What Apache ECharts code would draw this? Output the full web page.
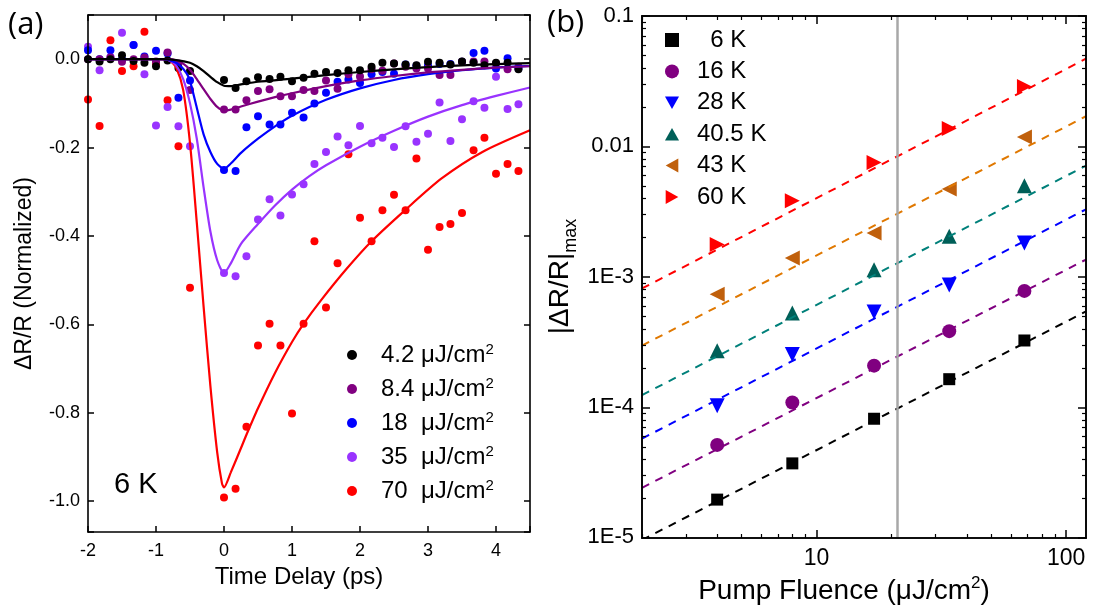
<!DOCTYPE html>
<html>
<head>
<meta charset="utf-8">
<script src="https://cdn.jsdelivr.net/npm/echarts@6/dist/echarts.min.js"></script>
<style>
html, body { margin: 0; padding: 0; background: #fff; }
#wrap { position: relative; width: 1095px; height: 610px; }
#main, #frame { position: absolute; left: 0; top: 0; width: 1095px; height: 610px; }
#main { z-index: 1; }
#frame { z-index: 2; pointer-events: none; }
</style>
</head>
<body>
<div id="wrap"><div id="main"></div><div id="frame"></div></div>
<script>
// ---- (a) 6 K traces ----
const delay = [-2.00,-1.83,-1.67,-1.50,-1.33,-1.17,-1.00,-0.83,-0.67,-0.50,-0.33,-0.17,0.00,0.17,0.33,0.50,0.67,0.83,1.00,1.17,1.33,1.50,1.67,1.83,2.00,2.17,2.33,2.50,2.67,2.83,3.00,3.17,3.33,3.50,3.67,3.83,4.00,4.17,4.33];
const trace4_2 = [0.0,-0.005,0.0,0.009,-0.004,-0.008,-0.016,-0.003,-0.02,-0.027,null,null,-0.047,-0.065,-0.05,-0.041,-0.045,-0.04,-0.05,-0.042,-0.033,-0.029,-0.031,-0.025,-0.025,-0.017,-0.008,-0.01,-0.012,-0.014,-0.006,-0.008,-0.012,-0.005,-0.008,-0.014,-0.008,-0.008,-0.023];
const trace8_4 = [0.0,0.0,0.004,-0.006,0.0,0.004,-0.005,0.015,-0.01,-0.07,null,null,-0.114,-0.114,-0.093,-0.072,-0.068,-0.084,-0.084,-0.07,-0.072,-0.048,-0.067,-0.034,-0.039,-0.023,-0.026,-0.01,-0.017,-0.021,-0.021,-0.036,-0.036,-0.006,-0.005,-0.005,-0.01,-0.023,-0.017];
const trace18 = [0.02,0.0,0.02,0.0,0.032,0.006,0.019,0.013,-0.087,-0.048,null,null,-0.251,-0.253,-0.154,-0.129,-0.148,-0.148,-0.121,-0.132,-0.1,-0.076,-0.051,-0.046,-0.054,-0.034,-0.029,-0.033,-0.012,-0.015,-0.014,-0.011,-0.011,-0.006,0.014,0.019,-0.021,0.002,-0.021];
const trace35 = [0.028,-0.025,0.005,0.06,0.032,-0.034,-0.15,-0.108,-0.152,-0.197,null,null,-0.484,-0.491,-0.446,-0.363,-0.317,-0.354,-0.306,-0.283,-0.237,-0.21,-0.175,-0.195,-0.151,-0.19,-0.178,-0.199,-0.152,-0.187,-0.169,-0.098,-0.185,-0.136,-0.095,-0.11,-0.04,-0.113,-0.102];
const trace70 = [-0.091,-0.151,0.043,-0.027,-0.016,0.062,-0.01,-0.093,-0.197,-0.517,null,null,-0.992,-0.972,-0.832,-0.648,-0.599,-0.648,-0.802,-0.599,-0.412,-0.562,-0.462,-0.215,-0.359,-0.412,-0.342,-0.307,-0.342,-0.225,-0.431,-0.38,-0.373,-0.348,-0.206,-0.178,-0.259,-0.237,-0.253];

// fit curves, [delay, value]
const fit4_2 = [[-2,0],[-0.9,0],[-0.7,-0.002],[-0.5,-0.008],[-0.4,-0.016],[-0.3,-0.027],[-0.2,-0.04],[-0.1,-0.052],[0,-0.06],[0.1,-0.061],[0.25,-0.057],[0.5,-0.051],[1,-0.044],[1.5,-0.036],[2,-0.029],[2.5,-0.023],[3,-0.018],[3.5,-0.014],[4,-0.011],[4.5,-0.009]];
const fit8_4 = [[-2,0],[-0.8,0],[-0.7,-0.003],[-0.6,-0.01],[-0.5,-0.024],[-0.4,-0.045],[-0.3,-0.068],[-0.2,-0.09],[-0.1,-0.108],[0,-0.116],[0.1,-0.114],[0.25,-0.107],[0.5,-0.096],[0.75,-0.086],[1,-0.077],[1.5,-0.061],[2,-0.048],[2.5,-0.038],[3,-0.03],[3.5,-0.024],[4,-0.019],[4.5,-0.016]];
const fit18 = [[-2,0],[-0.9,0],[-0.75,-0.005],[-0.65,-0.014],[-0.55,-0.032],[-0.5,-0.049],[-0.4,-0.11],[-0.3,-0.17],[-0.2,-0.21],[-0.1,-0.237],[0,-0.248],[0.1,-0.236],[0.25,-0.212],[0.5,-0.18],[0.75,-0.152],[1,-0.128],[1.5,-0.092],[2,-0.066],[2.5,-0.047],[3,-0.034],[3.5,-0.025],[4,-0.019],[4.5,-0.015]];
const fit35 = [[-2,0],[-0.9,0],[-0.8,-0.003],[-0.7,-0.015],[-0.6,-0.045],[-0.5,-0.1],[-0.4,-0.18],[-0.3,-0.29],[-0.2,-0.39],[-0.1,-0.455],[0,-0.484],[0.1,-0.462],[0.25,-0.418],[0.5,-0.373],[0.75,-0.331],[1,-0.295],[1.25,-0.265],[1.5,-0.24],[2,-0.198],[2.5,-0.162],[3,-0.13],[3.5,-0.104],[4,-0.083],[4.5,-0.064]];
const fit70 = [[-2,0],[-0.95,0],[-0.8,-0.003],[-0.7,-0.02],[-0.6,-0.07],[-0.5,-0.19],[-0.4,-0.37],[-0.3,-0.56],[-0.2,-0.74],[-0.1,-0.89],[-0.03,-0.96],[0,-0.969],[0.1,-0.935],[0.25,-0.88],[0.33,-0.85],[0.5,-0.79],[0.75,-0.71],[1,-0.64],[1.165,-0.6],[1.42,-0.547],[1.8,-0.475],[2.17,-0.412],[2.66,-0.342],[3.2,-0.27],[3.8,-0.21],[4.5,-0.161]];

// ---- (b) |dR/R|max vs fluence ----
const fluence = [4, 8, 17, 34, 68];
const amp6K = [1.94e-5, 3.68e-5, 8.1e-5, 1.63e-4, 3.23e-4];
const amp16K = [5.1e-5, 1.08e-4, 2.07e-4, 3.81e-4, 7.76e-4];
const amp28K = [1.02e-4, 2.52e-4, 5.35e-4, 8.6e-4, 1.81e-3];
const amp40K = [2.7e-4, 5.25e-4, 1.13e-3, 2.04e-3, 4.98e-3];
const amp43K = [7.3e-4, 1.39e-3, 2.16e-3, 4.69e-3, 1.18e-2];
const amp60K = [1.76e-3, 3.81e-3, 7.5e-3, 1.37e-2, 2.87e-2];
// dashed fits, value at left / right edge of the axis
const fitEnds = [2, 120];
const line6K = [9.5e-6, 5.4e-4];
const line16K = [2.39e-5, 1.35e-3];
const line28K = [5.7e-5, 3.28e-3];
const line40K = [1.23e-4, 7.1e-3];
const line43K = [2.95e-4, 1.7e-2];
const line60K = [8.1e-4, 4.7e-2];
const markerFluence = 21;

// ticks
const xMajor = [10, 100];
const xMinor = [2,3,4,5,6,7,8,9,20,30,40,50,60,70,80,90];
const yMajor = [1e-5, 1e-4, 1e-3, 1e-2, 1e-1];
const yMajorText = ['1E-5', '1E-4', '1E-3', '0.01', '0.1'];
const yMinor = [];
[1e-5, 1e-4, 1e-3, 1e-2].forEach(function (d) {
    for (let m = 2; m <= 9; m++) yMinor.push(m * d);
});

const FONT = 'Liberation Sans, Arial, sans-serif';
const grids = [
    { left: 88, top: 15, width: 442, height: 517 },
    { left: 642, top: 16, width: 444, height: 522 }
];

function pairs(vals) {
    return delay.map(function (t, i) { return vals[i] == null ? null : [t, vals[i]]; }).filter(Boolean);
}
function pts(vals) {
    return fluence.map(function (f, i) { return [f, vals[i]]; });
}

const leftColors = ['#000000', '#800080', '#0000ff', '#9933ff', '#ff0000'];
const leftNames = ['4.2 μJ/cm', '8.4 μJ/cm', '18  μJ/cm', '35  μJ/cm', '70  μJ/cm'];
const leftTraces = [trace4_2, trace8_4, trace18, trace35, trace70];
const leftFits = [fit4_2, fit8_4, fit18, fit35, fit70];

const rightNames = ['\u20076 K', '16 K', '28 K', '40.5 K', '43 K', '60 K'];
const rightAmps = [amp6K, amp16K, amp28K, amp40K, amp43K, amp60K];
const rightLines = [line6K, line16K, line28K, line40K, line43K, line60K];
const markColors = ['#000000', '#800080', '#0000ff', '#005f58', '#c0600c', '#ff0000'];
const dashColors = ['#000000', '#800080', '#0000ff', '#00807a', '#e07800', '#ff0000'];
const symbols = [
    'rect', 'circle',
    'path://M0,0 L10,0 L5,9 Z',
    'path://M5,0 L10,9 L0,9 Z',
    'path://M9,0 L9,10 L0,5 Z',
    'path://M0,0 L0,10 L9,5 Z'
];
const symbolSizes = [12, 14, 15, 15, 15, 15];

const series = [];
// scatter (a): red first so black sits on top
for (let i = 4; i >= 0; i--) {
    series.push({
        name: leftNames[i], type: 'scatter', xAxisIndex: 0, yAxisIndex: 0,
        symbol: 'circle', symbolSize: 8,
        itemStyle: { color: leftColors[i], opacity: 1 },
        data: pairs(leftTraces[i])
    });
}
for (let i = 4; i >= 0; i--) {
    series.push({
        name: 'fit ' + i, type: 'line', xAxisIndex: 0, yAxisIndex: 0,
        smooth: 0.25, showSymbol: false,
        lineStyle: { color: leftColors[i], width: 2.2 },
        data: leftFits[i]
    });
}
// (b)
for (let i = 0; i < 6; i++) {
    const s = {
        name: rightNames[i], type: 'scatter', xAxisIndex: 1, yAxisIndex: 1,
        symbol: symbols[i], symbolSize: symbolSizes[i],
        itemStyle: { color: markColors[i], opacity: 1 },
        data: pts(rightAmps[i])
    };
    if (i === 0) {
        s.markLine = {
            silent: true, symbol: 'none', label: { show: false },
            lineStyle: { color: '#a8a8a8', width: 2.5, type: 'solid' },
            data: [{ xAxis: markerFluence }]
        };
    }
    series.push(s);
}
for (let i = 0; i < 6; i++) {
    series.push({
        name: 'pl ' + i, type: 'line', xAxisIndex: 1, yAxisIndex: 1,
        showSymbol: false,
        lineStyle: { color: dashColors[i], width: 2, type: [8, 7] },
        data: [[fitEnds[0], rightLines[i][0]], [fitEnds[1], rightLines[i][1]]]
    });
}

const hidden = { show: false };

// main chart: data, labels, names, legends
const chart = echarts.init(document.getElementById('main'));
chart.setOption({
    animation: false,
    backgroundColor: '#fff',
    grid: grids,
    xAxis: [
        {
            type: 'value', gridIndex: 0, min: -2, max: 4.5, interval: 1,
            axisLine: { show: false, onZero: false }, axisTick: hidden, splitLine: hidden,
            axisLabel: { color: '#000', fontSize: 18, fontFamily: FONT, margin: 10, showMaxLabel: false },
            name: 'Time Delay (ps)', nameLocation: 'middle', nameGap: 27,
            nameTextStyle: { color: '#000', fontSize: 24, fontFamily: FONT, padding: [0, 20, 0, 0] }
        },
        {
            type: 'log', logBase: 10, gridIndex: 1, min: 2, max: 120,
            axisLine: { show: false, onZero: false }, axisTick: hidden, splitLine: hidden,
            axisLabel: { customValues: xMajor, color: '#000', fontSize: 23, fontFamily: FONT, margin: 10 },
            name: '{a|Pump Fluence (μJ/cm}{s|2}{a|)}', nameLocation: 'middle', nameGap: 34,
            nameTextStyle: {
                color: '#000', padding: [0, 40, 0, 0],
                rich: {
                    a: { fontSize: 28, fontFamily: FONT, color: '#000', lineHeight: 32 },
                    s: { fontSize: 17, fontFamily: FONT, color: '#000', verticalAlign: 'top', lineHeight: 18 }
                }
            }
        }
    ],
    yAxis: [
        {
            type: 'value', gridIndex: 0, min: -1.07, max: 0.1,
            axisLine: { show: false, onZero: false }, axisTick: hidden, splitLine: hidden,
            axisLabel: {
                color: '#000', fontSize: 18, fontFamily: FONT, margin: 8,
                showMinLabel: false, showMaxLabel: false,
                formatter: function (v) { return (Math.abs(v) < 1e-9 ? 0 : v).toFixed(1); }
            },
            name: 'ΔR/R (Normalized)', nameLocation: 'middle', nameGap: 52, nameRotate: 90,
            nameTextStyle: { color: '#000', fontSize: 23, fontFamily: FONT }
        },
        {
            type: 'log', logBase: 10, gridIndex: 1, min: 1e-5, max: 0.1,
            axisLine: { show: false, onZero: false }, axisTick: hidden, splitLine: hidden,
            axisLabel: {
                customValues: yMajor, color: '#000', fontSize: 22, fontFamily: FONT, margin: 8,
                formatter: function (v) {
                    const e = Math.round(Math.log10(v));
                    return yMajorText[e + 5];
                }
            },
            name: '{a||ΔR/R|}{sub|max}', nameLocation: 'middle', nameGap: 62, nameRotate: 90,
            nameTextStyle: {
                color: '#000',
                rich: {
                    a: { fontSize: 28, fontFamily: FONT, color: '#000', lineHeight: 40 },
                    sub: { fontSize: 18, fontFamily: FONT, color: '#000', verticalAlign: 'bottom', lineHeight: 20 }
                }
            }
        }
    ],
    legend: [
        {
            data: leftNames.slice(), orient: 'vertical', left: 342, top: 337,
            itemWidth: 10, itemHeight: 10, itemGap: 9,
            selectedMode: false,
            formatter: function (name) { return '{g| }{a|' + name + '}{s|2}'; },
            textStyle: {
                rich: {
                    g: { width: 19, fontSize: 10 },
                    a: { fontSize: 24, fontFamily: FONT, color: '#000', lineHeight: 26 },
                    s: { fontSize: 15, fontFamily: FONT, color: '#000', verticalAlign: 'top', lineHeight: 14 }
                }
            }
        },
        {
            data: rightNames.slice(), orient: 'vertical', left: 660, top: 23,
            itemWidth: 14, itemHeight: 14, itemGap: 7.4,
            selectedMode: false,
            formatter: function (name) { return '{g| }{a|' + name + '}'; },
            textStyle: {
                rich: {
                    g: { width: 13, fontSize: 10 },
                    a: { fontSize: 24, fontFamily: FONT, color: '#000', lineHeight: 24 }
                }
            }
        }
    ],
    graphic: [
        { type: 'text', left: 8, top: 10, style: { text: '(a)', fontSize: 31, fontFamily: 'Open Sans, sans-serif', fill: '#000' } },
        { type: 'text', left: 547, top: 8, style: { text: '(b)', fontSize: 31, fontFamily: 'Open Sans, sans-serif', fill: '#000' } },
        { type: 'text', left: 114, top: 470, style: { text: '6 K', fontSize: 29, fontFamily: FONT, fill: '#000' } }
    ],
    series: series
});

// overlay: box frame and inward ticks of both panels
function lineOn() { return { show: true, onZero: false, lineStyle: { color: '#000', width: 1.6 } }; }
function ticks(len, w, vals) {
    const t = { show: true, inside: true, length: len, lineStyle: { color: '#000', width: w } };
    if (vals) t.customValues = vals;
    return t;
}
function linX(pos) {
    return { type: 'value', gridIndex: 0, min: -2, max: 4.5, interval: 1, position: pos,
        axisLine: lineOn(), axisTick: ticks(6, 1.5), axisLabel: hidden, splitLine: hidden };
}
function linY(pos) {
    return { type: 'value', gridIndex: 0, min: -1.07, max: 0.1, position: pos,
        axisLine: lineOn(), axisTick: ticks(6, 1.5), axisLabel: hidden, splitLine: hidden };
}
function logX(pos, tk) {
    return { type: 'log', logBase: 10, gridIndex: 1, min: 2, max: 120, position: pos,
        axisLine: lineOn(), axisTick: tk, axisLabel: hidden, splitLine: hidden };
}
function logY(pos, tk) {
    return { type: 'log', logBase: 10, gridIndex: 1, min: 1e-5, max: 0.1, position: pos,
        axisLine: lineOn(), axisTick: tk, axisLabel: hidden, splitLine: hidden };
}
const frameChart = echarts.init(document.getElementById('frame'));
frameChart.setOption({
    animation: false,
    backgroundColor: 'transparent',
    grid: grids,
    xAxis: [
        linX('bottom'), linX('top'),
        logX('bottom', ticks(8, 1.5, xMajor)), logX('bottom', ticks(4, 1.2, xMinor)),
        logX('top', ticks(8, 1.5, xMajor)), logX('top', ticks(4, 1.2, xMinor))
    ],
    yAxis: [
        linY('left'), linY('right'),
        logY('left', ticks(8, 1.5, yMajor)), logY('left', ticks(4, 1.2, yMinor)),
        logY('right', ticks(8, 1.5, yMajor)), logY('right', ticks(4, 1.2, yMinor))
    ],
    series: []
});
</script>
</body>
</html>
